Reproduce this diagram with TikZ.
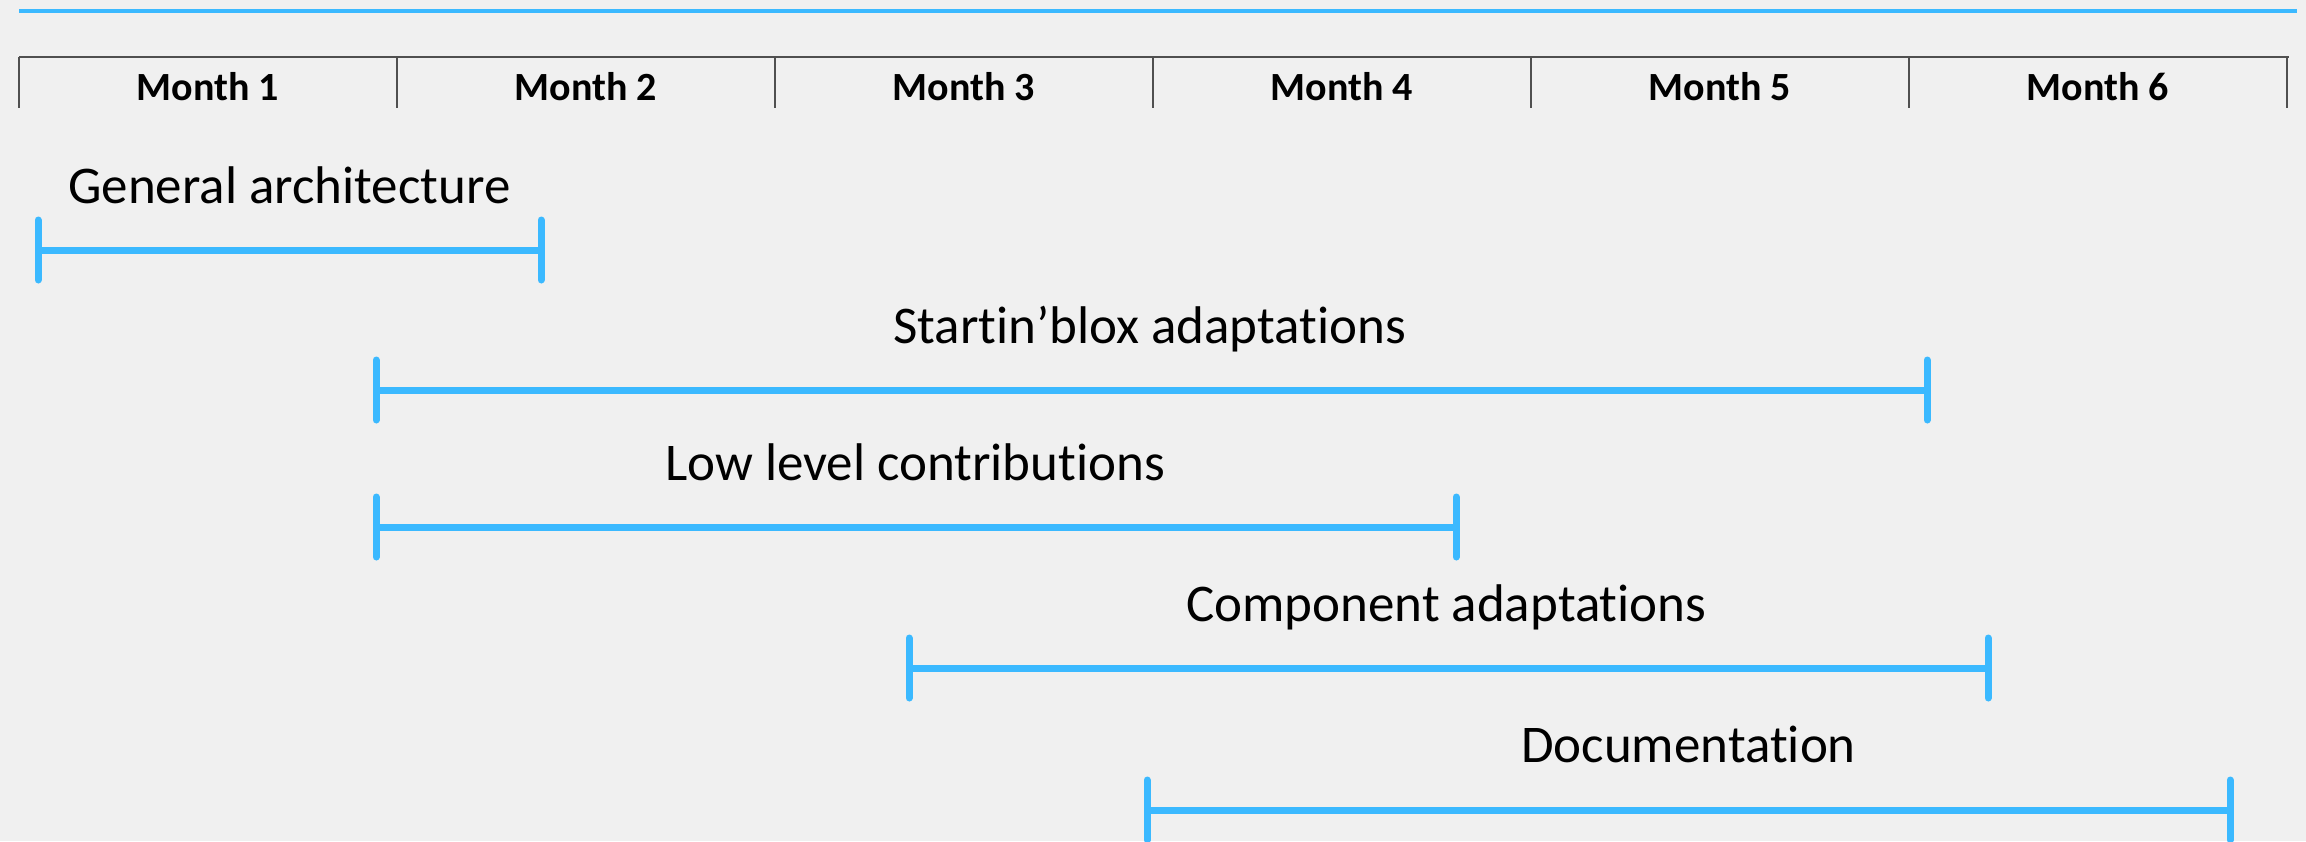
\documentclass[tikz,border=0pt]{standalone}
\usepackage{fontspec}
\setmainfont{Carlito}[Ligatures={NoCommon}]
\definecolor{barblue}{HTML}{3BB9FF}
\definecolor{bgc}{HTML}{F0F0F0}
\definecolor{gridc}{HTML}{505050}
\begin{document}
\begin{tikzpicture}[x=1pt,y=-1pt,
  barline/.style={draw=barblue,line width=7pt},
  endtick/.style={draw=barblue,line width=7pt,line cap=round},
  monthlbl/.style={font=\fontsize{40}{48}\selectfont\bfseries,anchor=base,inner sep=0pt},
  tasklbl/.style={font=\fontsize{53}{64}\selectfont,anchor=base west,inner sep=0pt},
  gridline/.style={draw=gridc,line width=1.3pt}]
\fill[bgc] (0,0) rectangle (2306,841);
\useasboundingbox (0,0) rectangle (2306,841);
% top rule
\coordinate (tl) at (19,11);
\coordinate (tr) at (2297,11);
\draw[barblue,line width=3.5pt] (tl) -- (tr);
% month header
\coordinate (hl) at (19,57);
\coordinate (hr) at (2289,57);
\draw[gridline] (hl) -- (hr);
\foreach \i/\x in {0/19,1/397,2/775,3/1153,4/1531,5/1909,6/2287}{
  \coordinate (d\i) at (\x,57);
  \coordinate (db\i) at (\x,108);
  \draw[gridline] (d\i) -- (db\i);
}
\foreach \i/\x in {1/208,2/586,3/964,4/1342,5/1720,6/2098}{
  \node[monthlbl] (m\i) at (\x,100) {Month \i};
}
% tasks
\node[tasklbl] (t1) at (68,203) {General architecture};
\node[tasklbl] (t2) at (893,343) {Startin’blox adaptations};
\node[tasklbl] (t3) at (665,480) {Low level contributions};
\node[tasklbl] (t4) at (1186,621) {Component adaptations};
\node[tasklbl] (t5) at (1521,762) {Documentation};
\foreach \i/\a/\b/\y in {1/38/541/250,2/376/1927/390,3/376/1456/527,4/909/1988/668,5/1147/2230/810}{
  \coordinate (s\i) at (\a,\y);
  \coordinate (e\i) at (\b,\y);
  \draw[barline] (s\i) -- (e\i);
  \draw[endtick] ([yshift=-30pt]s\i) -- ([yshift=30pt]s\i);
  \draw[endtick] ([yshift=-30pt]e\i) -- ([yshift=30pt]e\i);
}
\end{tikzpicture}
\end{document}
